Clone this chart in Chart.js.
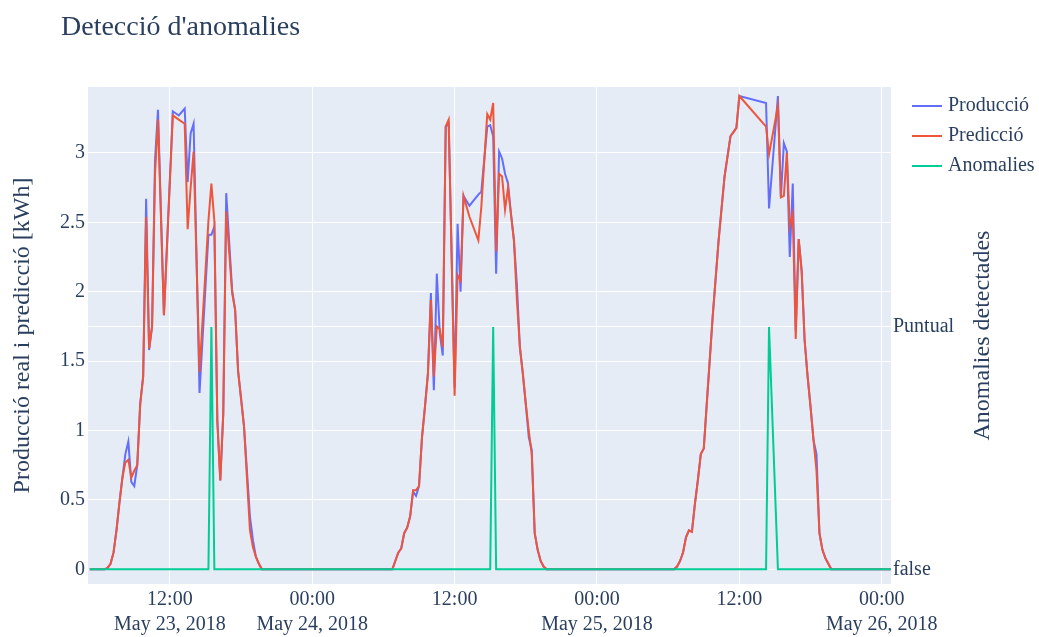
<!DOCTYPE html>
<html>
<head>
<meta charset="utf-8">
<script src="https://cdn.jsdelivr.net/npm/chart.js@4.4.1/dist/chart.umd.min.js"></script>
<style>
  html, body { margin: 0; padding: 0; background: #fff; }
  #wrap { width: 1039px; height: 637px; }
</style>
</head>
<body>
<div id="wrap"><canvas id="anomaliesChart" width="1039" height="637"></canvas></div>
<script>
// Dades llegides del gràfic (cada 15 minuts, amb forats on falten mesures)
const temps = [
  '2018-05-23 05:15', '2018-05-23 06:00', '2018-05-23 06:30', '2018-05-23 06:45', '2018-05-23 07:00',
  '2018-05-23 07:15', '2018-05-23 07:30', '2018-05-23 07:45', '2018-05-23 08:00', '2018-05-23 08:15',
  '2018-05-23 08:30', '2018-05-23 08:45', '2018-05-23 09:00', '2018-05-23 09:15', '2018-05-23 09:30',
  '2018-05-23 09:45', '2018-05-23 10:00', '2018-05-23 10:15', '2018-05-23 10:30', '2018-05-23 10:45',
  '2018-05-23 11:00', '2018-05-23 11:30', '2018-05-23 12:15', '2018-05-23 12:45', '2018-05-23 13:15',
  '2018-05-23 13:30', '2018-05-23 13:45', '2018-05-23 14:00', '2018-05-23 14:30', '2018-05-23 15:15',
  '2018-05-23 15:30', '2018-05-23 15:45', '2018-05-23 16:00', '2018-05-23 16:15', '2018-05-23 16:30',
  '2018-05-23 16:45', '2018-05-23 17:15', '2018-05-23 17:30', '2018-05-23 17:45', '2018-05-23 18:15',
  '2018-05-23 18:45', '2018-05-23 19:00', '2018-05-23 19:15', '2018-05-23 19:30', '2018-05-23 19:45',
  '2018-05-23 20:00',
  '2018-05-24 06:30', '2018-05-24 06:45', '2018-05-24 07:00', '2018-05-24 07:15', '2018-05-24 07:30',
  '2018-05-24 07:45', '2018-05-24 08:00', '2018-05-24 08:15', '2018-05-24 08:30', '2018-05-24 08:45',
  '2018-05-24 09:00', '2018-05-24 09:15', '2018-05-24 09:30', '2018-05-24 09:45', '2018-05-24 10:00',
  '2018-05-24 10:15', '2018-05-24 10:30', '2018-05-24 10:45', '2018-05-24 11:00', '2018-05-24 11:15',
  '2018-05-24 11:30', '2018-05-24 12:00', '2018-05-24 12:15', '2018-05-24 12:30', '2018-05-24 12:45',
  '2018-05-24 13:15', '2018-05-24 14:00', '2018-05-24 14:15', '2018-05-24 14:45', '2018-05-24 15:00',
  '2018-05-24 15:15', '2018-05-24 15:30', '2018-05-24 15:45', '2018-05-24 16:00', '2018-05-24 16:15',
  '2018-05-24 16:30', '2018-05-24 16:45', '2018-05-24 17:00', '2018-05-24 17:15', '2018-05-24 17:30',
  '2018-05-24 17:45', '2018-05-24 18:00', '2018-05-24 18:15', '2018-05-24 18:30', '2018-05-24 18:45',
  '2018-05-24 19:00', '2018-05-24 19:15', '2018-05-24 19:30', '2018-05-24 19:45',
  '2018-05-25 06:30', '2018-05-25 06:45', '2018-05-25 07:00', '2018-05-25 07:15', '2018-05-25 07:30',
  '2018-05-25 07:45', '2018-05-25 08:00', '2018-05-25 08:15', '2018-05-25 08:30', '2018-05-25 08:45',
  '2018-05-25 09:00', '2018-05-25 09:15', '2018-05-25 09:45', '2018-05-25 10:15', '2018-05-25 10:45',
  '2018-05-25 11:15', '2018-05-25 11:30', '2018-05-25 11:45', '2018-05-25 12:00', '2018-05-25 14:15',
  '2018-05-25 14:30', '2018-05-25 15:15', '2018-05-25 15:30', '2018-05-25 15:45', '2018-05-25 16:00',
  '2018-05-25 16:15', '2018-05-25 16:30', '2018-05-25 16:45', '2018-05-25 17:00', '2018-05-25 17:15',
  '2018-05-25 17:30', '2018-05-25 17:45', '2018-05-25 18:00', '2018-05-25 18:15', '2018-05-25 18:30',
  '2018-05-25 18:45', '2018-05-25 19:00', '2018-05-25 19:15', '2018-05-25 19:30', '2018-05-25 19:45',
  '2018-05-26 00:45'
];

const produccio = [
  0, 0, 0, 0.01, 0.04, 0.12, 0.28, 0.48, 0.66, 0.83,
  0.92, 0.63, 0.60, 0.75, 1.19, 1.39, 2.67, 1.58, 1.75, 2.95,
  3.31, 1.83, 3.30, 3.27, 3.32, 2.79, 3.14, 3.21, 1.27, 2.41,
  2.41, 2.47, 1.07, 0.64, 1.12, 2.71, 2.01, 1.87, 1.43, 1.03,
  0.38, 0.21, 0.09, 0.04, 0, 0,
  0, 0, 0.06, 0.12, 0.15, 0.26, 0.30, 0.38, 0.56, 0.53,
  0.60, 0.95, 1.17, 1.41, 1.99, 1.29, 2.13, 1.70, 1.54, 3.19,
  3.21, 1.31, 2.49, 2.00, 2.69, 2.62, 2.70, 2.72, 3.19, 3.20,
  3.12, 2.13, 3.01, 2.96, 2.85, 2.78, 2.56, 2.37, 2.05, 1.60,
  1.41, 1.19, 0.95, 0.86, 0.26, 0.14, 0.06, 0.02, 0,
  0, 0.02, 0.06, 0.12, 0.23, 0.28, 0.27, 0.47, 0.64, 0.83,
  0.87, 1.19, 1.82, 2.37, 2.83, 3.12, 3.15, 3.18, 3.41, 3.36,
  2.60, 3.41, 2.68, 3.07, 3.01, 2.25, 2.78, 1.72, 2.38, 2.15,
  1.65, 1.39, 1.17, 0.93, 0.83, 0.26, 0.14, 0.08, 0.04, 0,
  0
];

const prediccio = [
  0, 0, 0, 0.01, 0.04, 0.12, 0.28, 0.48, 0.66, 0.77,
  0.79, 0.66, 0.71, 0.75, 1.19, 1.39, 2.54, 1.59, 1.75, 2.85,
  3.24, 1.83, 3.27, 3.24, 3.21, 2.45, 2.75, 3.01, 1.42, 2.51,
  2.78, 2.51, 1.07, 0.64, 1.12, 2.58, 1.99, 1.87, 1.43, 1.03,
  0.28, 0.16, 0.09, 0.04, 0, 0,
  0, 0, 0.06, 0.12, 0.15, 0.26, 0.30, 0.38, 0.57, 0.57,
  0.60, 0.95, 1.17, 1.41, 1.94, 1.39, 1.75, 1.73, 1.60, 3.19,
  3.24, 1.25, 2.12, 2.08, 2.69, 2.54, 2.37, 2.61, 3.28, 3.24,
  3.36, 2.29, 2.85, 2.83, 2.59, 2.75, 2.56, 2.37, 1.94, 1.60,
  1.41, 1.19, 1.00, 0.83, 0.26, 0.14, 0.06, 0.02, 0,
  0, 0.02, 0.06, 0.12, 0.23, 0.28, 0.27, 0.47, 0.64, 0.83,
  0.87, 1.19, 1.82, 2.37, 2.83, 3.12, 3.15, 3.18, 3.41, 3.19,
  2.99, 3.34, 2.68, 2.69, 3.00, 2.47, 2.56, 1.66, 2.38, 2.15,
  1.65, 1.39, 1.17, 0.93, 0.71, 0.26, 0.14, 0.08, 0.04, 0,
  0
];

// 0 = false, 1 = Puntual
const anomalies = temps.map(t => 0);
const anomaliesPuntuals = ['2018-05-23 15:30', '2018-05-24 15:15', '2018-05-25 14:30'];
anomaliesPuntuals.forEach(t => { anomalies[temps.indexOf(t)] = 1; });

const yTicks = [0, 0.5, 1, 1.5, 2, 2.5, 3];
const y2Ticks = [0, 1];
const y2Labels = ['false', 'Puntual'];
const xTickHores = [12, 24, 36, 48, 60, 72];
const xTickLabels = [
  ['12:00', 'May 23, 2018'],
  ['00:00', 'May 24, 2018'],
  ['12:00'],
  ['00:00', 'May 25, 2018'],
  ['12:00'],
  ['00:00', 'May 26, 2018']
];

const textColor = '#2a3f5f';
const fontFamily = "'Liberation Serif', 'Times New Roman', serif";

// hores des de 2018-05-23 00:00
const origen = Date.parse('2018-05-23T00:00:00Z');
const hores = temps.map(t => (Date.parse(t.replace(' ', 'T') + ':00Z') - origen) / 3600000);
const punts = serie => serie.map((v, i) => ({ x: hores[i], y: v }));

const fonsPlot = {
  id: 'fonsPlot',
  beforeDraw(chart) {
    const { ctx, chartArea: a } = chart;
    ctx.save();
    ctx.fillStyle = '#E5ECF6';
    ctx.fillRect(a.left, a.top, a.right - a.left, a.bottom - a.top);
    ctx.restore();
  },
  afterDraw(chart) {
    const { ctx, chartArea: a } = chart;
    ctx.save();
    ctx.fillStyle = textColor;
    // titol
    ctx.font = `28px ${fontFamily}`;
    ctx.textAlign = 'left';
    ctx.textBaseline = 'middle';
    ctx.fillText("Detecció d'anomalies", 61, 28);

    // llegenda
    ctx.font = `20px ${fontFamily}`;
    chart.data.datasets.forEach((ds, i) => {
      const y = 106 + i * 30;
      ctx.strokeStyle = ds.borderColor;
      ctx.lineWidth = 2;
      ctx.beginPath();
      ctx.moveTo(912, y);
      ctx.lineTo(942, y);
      ctx.stroke();
      ctx.fillText(ds.label, 948, y);
    });

    // titol eix dret (de baix a dalt)
    ctx.font = `24px ${fontFamily}`;
    ctx.translate(983, (a.top + a.bottom) / 2);
    ctx.rotate(-Math.PI / 2);
    ctx.textAlign = 'center';
    ctx.fillText('Anomalies detectades', 0, 0);
    ctx.restore();
  }
};

new Chart(document.getElementById('anomaliesChart'), {
  type: 'line',
  data: {
    datasets: [
      {
        label: 'Producció',
        data: punts(produccio),
        borderColor: '#636EFA',
        borderWidth: 2,
        pointRadius: 0,
        yAxisID: 'y',
        order: 3
      },
      {
        label: 'Predicció',
        data: punts(prediccio),
        borderColor: '#EF553B',
        borderWidth: 2,
        pointRadius: 0,
        yAxisID: 'y',
        order: 2
      },
      {
        label: 'Anomalies',
        data: punts(anomalies),
        borderColor: '#00CC96',
        borderWidth: 2,
        pointRadius: 0,
        yAxisID: 'y2',
        order: 1
      }
    ]
  },
  options: {
    responsive: false,
    animation: false,
    devicePixelRatio: 1,
    layout: { padding: { top: 87, left: 0, right: 0, bottom: 0 } },
    plugins: {
      legend: { display: false },
      tooltip: { enabled: false },
      title: { display: false }
    },
    scales: {
      x: {
        type: 'linear',
        min: 5.1,
        max: 72.78,
        afterBuildTicks: s => { s.ticks = xTickHores.map(v => ({ value: v })); },
        afterFit: s => { s.height = 53; },
        grid: { color: '#ffffff', lineWidth: 1, drawTicks: false },
        border: { display: false },
        ticks: {
          color: textColor,
          font: { family: fontFamily, size: 20, lineHeight: 1.25 },
          padding: 3,
          maxRotation: 0,
          autoSkip: false,
          callback: (v, i) => xTickLabels[i]
        }
      },
      y: {
        position: 'left',
        min: -0.106,
        max: 3.475,
        afterBuildTicks: s => { s.ticks = yTicks.map(v => ({ value: v })); },
        afterFit: s => { s.width = 88; },
        grid: { color: '#ffffff', lineWidth: 1, drawTicks: false },
        border: { display: false },
        ticks: {
          color: textColor,
          font: { family: fontFamily, size: 20 },
          padding: 3,
          callback: v => String(v)
        },
        title: {
          display: true,
          text: 'Producció real i predicció [kWh]',
          color: textColor,
          font: { family: fontFamily, size: 24 },
          padding: { top: 8, bottom: 0 }
        }
      },
      y2: {
        position: 'right',
        // el zero coincideix amb el zero de l'eix esquerre
        min: -0.0607,
        max: 1.99,
        afterBuildTicks: s => { s.ticks = y2Ticks.map(v => ({ value: v })); },
        afterFit: s => { s.width = 148; },
        grid: { color: '#ffffff', lineWidth: 1, drawTicks: false },
        border: { display: false },
        ticks: {
          color: textColor,
          font: { family: fontFamily, size: 20 },
          padding: 2,
          callback: (v, i) => y2Labels[i]
        }
      }
    }
  },
  plugins: [fonsPlot]
});
</script>
</body>
</html>
